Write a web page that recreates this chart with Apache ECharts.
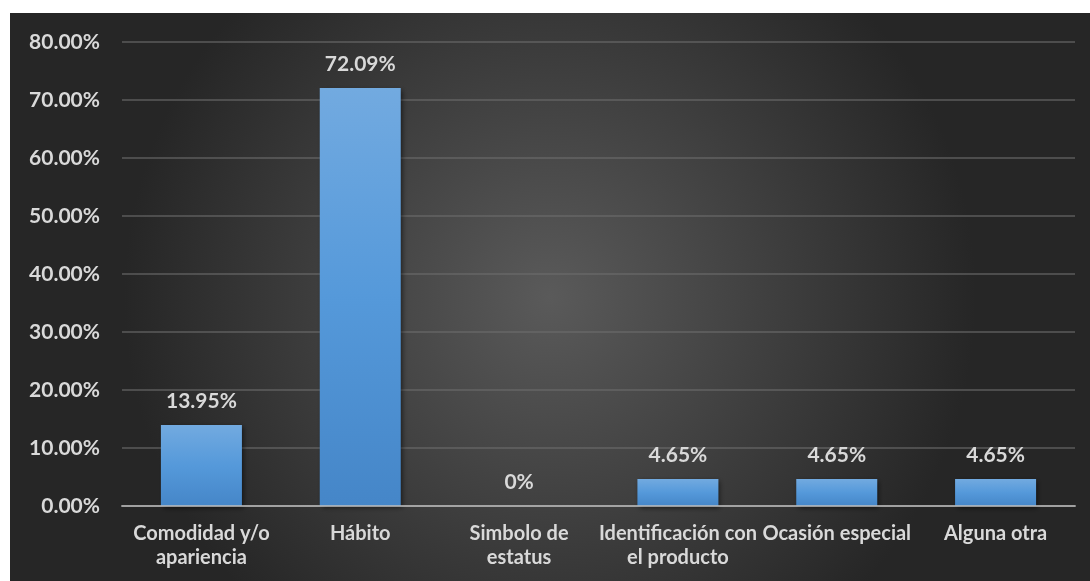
<!DOCTYPE html>
<html>
<head>
<meta charset="utf-8">
<script src="https://cdn.jsdelivr.net/npm/echarts@6/dist/echarts.min.js"></script>
<style>
  html, body { margin: 0; padding: 0; background: #ffffff; }
  #chart { position: absolute; left: 10px; top: 13px; width: 1080px; height: 568px; }
</style>
</head>
<body>
<div id="chart"></div>
<script>
// Reasons for purchase, share of respondents (%)
const categories = [
  'Comodidad y/o\napariencia',
  'Hábito',
  'Simbolo de\nestatus',
  'Identificación con\nel producto',
  'Ocasión especial',
  'Alguna otra'
];
const shares = [13.95, 72.09, 0, 4.65, 4.65, 4.65];
const yTicks = [0, 10, 20, 30, 40, 50, 60, 70, 80];

const textColor = '#d9d9d9';
const fontFamily = 'Lato, "Open Sans", sans-serif';

const chart = echarts.init(document.getElementById('chart'), null, { renderer: 'canvas' });
chart.setOption({
  animation: false,
  backgroundColor: {
    type: 'radial', x: 0.5, y: 0.5, r: 0.75,
    colorStops: [
      { offset: 0, color: '#5a5a5a' },
      { offset: 1, color: '#262626' }
    ]
  },
  grid: { left: 112, right: 15, top: 29, bottom: 75, containLabel: false },
  xAxis: {
    type: 'category',
    data: categories,
    axisTick: { show: false },
    axisLine: { show: true, lineStyle: { color: 'rgba(190,190,190,0.75)', width: 2 } },
    axisLabel: {
      color: textColor, fontFamily, fontWeight: 'bold', fontSize: 20,
      lineHeight: 24, margin: 16, interval: 0
    },
    z: 5
  },
  yAxis: {
    type: 'value',
    min: yTicks[0],
    max: yTicks[yTicks.length - 1],
    interval: 10,
    axisLine: { show: false },
    axisTick: { show: false },
    splitLine: { lineStyle: { color: 'rgba(110,110,110,0.55)', width: 2 } },
    axisLabel: {
      color: textColor, fontFamily, fontWeight: 'bold', fontSize: 21, margin: 22,
      formatter: v => v.toFixed(2) + '%'
    }
  },
  series: [{
    type: 'bar',
    data: shares,
    barWidth: '51%',
    itemStyle: {
      color: {
        type: 'linear', x: 0, y: 0, x2: 0, y2: 1,
        colorStops: [
          { offset: 0, color: '#72aae0' },
          { offset: 0.5, color: '#5599da' },
          { offset: 1, color: '#4586c8' }
        ]
      },
      shadowColor: 'rgba(0,0,0,0.55)',
      shadowBlur: 5,
      shadowOffsetX: 2,
      shadowOffsetY: 2
    },
    label: {
      show: true,
      position: 'top',
      distance: 13,
      color: textColor, fontFamily, fontWeight: 'bold', fontSize: 21,
      formatter: p => (p.value === 0 ? '0%' : p.value.toFixed(2) + '%')
    }
  }]
});
</script>
</body>
</html>
